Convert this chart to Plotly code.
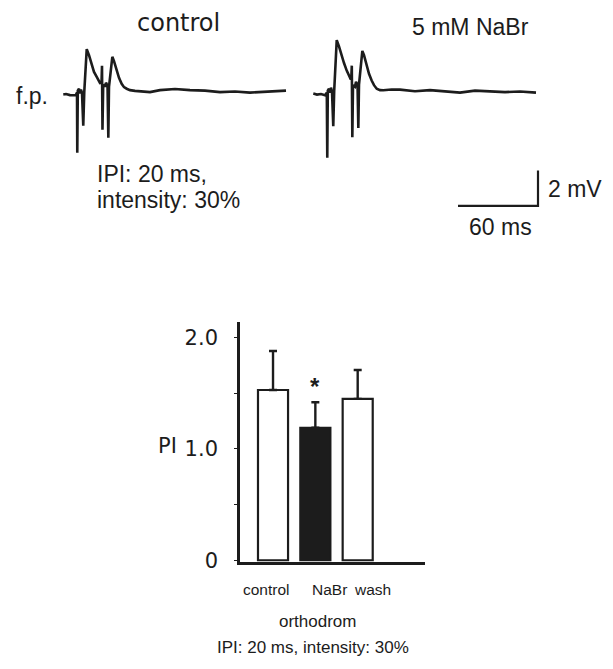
import plotly.graph_objects as go

# ---------------- data ----------------
# field potential traces (time in ms, voltage in mV, relative to baseline)
ctrl_t = [0.2, 2.25, 5.25, 9.5, 10.5, 10.7, 11.1, 12, 12.75, 13.5, 14.25, 15.2, 15.97, 17.8,
          19.5, 21.5, 23.25, 25.3, 27.75, 28.9, 29.25, 29.6, 30.15, 31.5, 32.25, 33.4, 34.0, 34.5,
          37.0, 38.25, 40.3, 42.0, 44.0, 45.75, 47.8, 50.25, 54.0, 57.75, 65.25, 72.75, 84.0,
          95.25, 106.5, 117.75, 129.0, 140.25, 151.5, 162.75, 167.25]
ctrl_v = [0, 0.03, -0.03, -0.04, 0.11, -3.28, 0.22, 0.33, 0.06, 0.28, 0.11, -1.76, 0.17, 2.56,
          2.22, 1.63, 1.28, 1.0, 0.65, 0.67, 1.63, -1.98, 0.56, 0.44, 0.67, 0.5, -2.44, 0.44,
          2.13, 1.89, 1.35, 0.94, 0.61, 0.42, 0.33, 0.25, 0.21, 0.18, 0.14, 0.25, 0.31,
          0.25, 0.22, 0.14, 0.17, 0.11, 0.14, 0.17, 0.22]

nabr_t = [0.2, 3, 6, 9, 10.35, 10.7, 11.1, 12, 12.75, 13.5, 14.25, 15.2, 15.9, 17.8,
          19.5, 21.5, 23.25, 25.3, 27.0, 28.1, 28.7, 29.1, 29.5, 30.0, 31.5, 32.25, 33.4, 34.0, 34.5,
          37.0, 38.25, 40.3, 42.0, 44.0, 45.75, 47.8, 50.25, 52.7, 59.0,
          65.25, 76.5, 87.75, 99.0, 110.25, 121.5, 132.75, 144.0, 155.25, 167.25]
nabr_v = [0.06, 0, 0.03, -0.04, 0.11, -3.56, 0.22, 0.33, 0.11, 0.39, 0.17, -1.79, 0.22, 3.07,
          2.72, 2.18, 1.78, 1.35, 1.06, 0.89, 0.89, 1.63, -2.41, 0.52, 0.44, 0.72, 0.56, -1.89, 0.56,
          2.46, 2.22, 1.63, 1.17, 0.79, 0.53, 0.33, 0.25, 0.24, 0.29,
          0.28, 0.19, 0.25, 0.17, 0.11, 0.22, 0.19, 0.14, 0.17, 0.11]

scale_ms = 60   # horizontal scale bar
scale_mv = 2    # vertical scale bar

# paired-pulse index bar chart
categories = ["control", "NaBr", "wash"]
pi_mean = [1.53, 1.19, 1.45]
pi_err = [0.35, 0.23, 0.26]
bar_fill = ["white", "#1c1c1c", "white"]
y_tickvals = [0, 0.5, 1.0, 1.5, 2.0]
y_ticktext = ["0", "", "1.0", "", "2.0"]

# ---------------- figure ----------------
W, H = 613, 669
INK = "#1c1c1c"


def px(x):
    return x / W


def py(y):
    return 1 - y / H


fig = go.Figure()

fig.add_trace(go.Scatter(x=ctrl_t, y=ctrl_v, mode="lines", xaxis="x", yaxis="y",
                         line=dict(color=INK, width=2.6), hoverinfo="skip"))
fig.add_trace(go.Scatter(x=nabr_t, y=nabr_v, mode="lines", xaxis="x2", yaxis="y2",
                         line=dict(color=INK, width=2.6), hoverinfo="skip"))

# scale bar (corner position in trace-axis units)
sb_x, sb_y = 168.75, -6.28
fig.add_trace(go.Scatter(x=[sb_x - scale_ms, sb_x, sb_x],
                         y=[sb_y, sb_y, sb_y + scale_mv],
                         mode="lines", xaxis="x2", yaxis="y2",
                         line=dict(color=INK, width=2.2), hoverinfo="skip"))

idx = list(range(len(categories)))
fig.add_trace(go.Bar(x=idx, y=pi_mean, width=0.71, xaxis="x3", yaxis="y3",
                     marker=dict(color=bar_fill, line=dict(color=INK, width=2.2)),
                     error_y=dict(type="data", array=pi_err, arrayminus=[0] * len(pi_err),
                                  symmetric=False, color=INK, thickness=2.4, width=4),
                     hovertext=categories, hoverinfo="text+y"))

trace_ydom = [py(240), py(30)]
fig.update_layout(
    width=W, height=H, autosize=False,
    margin=dict(l=0, r=0, t=0, b=0),
    paper_bgcolor="white", plot_bgcolor="white",
    showlegend=False,
    xaxis=dict(domain=[px(63), px(290)], range=[0, 170.25], visible=False, anchor="y"),
    yaxis=dict(domain=trace_ydom, range=[-8, 3.667], visible=False, anchor="x"),
    xaxis2=dict(domain=[px(313), px(540)], range=[0, 170.25], visible=False, anchor="y2"),
    yaxis2=dict(domain=trace_ydom, range=[-8, 3.667], visible=False, anchor="x2"),
    xaxis3=dict(domain=[px(240), px(425)], range=[-0.78, 3.59], anchor="y3",
                showline=True, linecolor=INK, linewidth=2.6, ticks="",
                showticklabels=False, showgrid=False, zeroline=False),
    yaxis3=dict(domain=[py(571), py(327)], range=[-0.02, 2.14], anchor="x3",
                showline=True, linecolor=INK, linewidth=2.6,
                ticks="outside", ticklen=3, tickwidth=1.2, tickcolor=INK,
                tickvals=y_tickvals, ticktext=y_ticktext,
                tickfont=dict(family="DejaVu Sans", size=21, color=INK),
                ticklabelstandoff=12,
                showgrid=False, zeroline=False),
)

SANS = "Liberation Sans"
GEO = "DejaVu Sans"


def note(text, x, y, size, family=SANS, xanchor="center"):
    fig.add_annotation(text=text, x=px(x), y=py(y), xref="paper", yref="paper",
                       showarrow=False, xanchor=xanchor, yanchor="middle",
                       font=dict(family=family, size=size, color=INK))


note("control", 178, 23, 24, GEO)
note("5 mM NaBr", 470, 27, 23)
note("f.p.", 32, 97, 23)
note("IPI: 20 ms,", 95, 177, 23, xanchor="left")
note("intensity: 30%", 95, 203, 23, xanchor="left")
note("2 mV", 546, 192, 23, xanchor="left")
note("60 ms", 500, 230, 23)
note("PI", 167, 453, 21, GEO)

# category labels under the bars
label_px = [266, 329, 372]
for name, lx in zip(categories, label_px):
    note(name, lx, 598, 15.5)
note("orthodrom", 317, 631, 17)
note("IPI: 20 ms, intensity: 30%", 313, 657, 17)

# significance star above NaBr
fig.add_annotation(text="<b>*</b>", x=1, y=pi_mean[1] + pi_err[1] + 0.14, xref="x3", yref="y3",
                   showarrow=False, font=dict(family=SANS, size=24, color=INK))

fig.write_html("out.html",
               config={"displayModeBar": False, "responsive": False},
               post_script="document.body.style.margin='0';document.body.style.padding='0';")
